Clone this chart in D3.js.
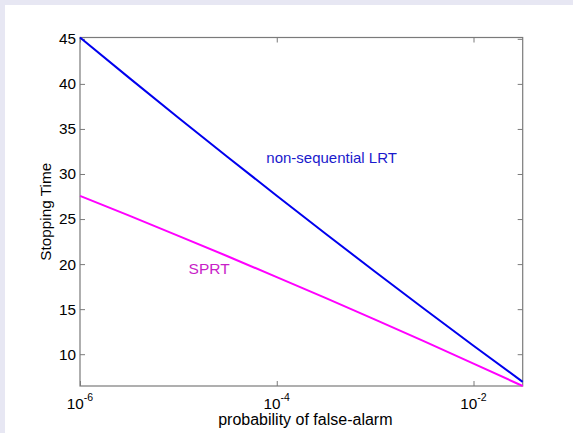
<!DOCTYPE html>
<html>
<head>
<meta charset="utf-8">
<script src="https://cdn.jsdelivr.net/npm/d3@7"></script>
<style>
  html, body { margin: 0; padding: 0; background: #ffffff; }
  svg { display: block; }
  text { font-family: "Liberation Sans", Arial, Helvetica, sans-serif; }
</style>
</head>
<body>
<svg id="chart" width="573" height="433"></svg>
<script>
// ---- data ----
const falseAlarm = [1e-6, 3.162e-6, 1e-5, 3.162e-5, 1e-4, 3.162e-4, 1e-3, 3.162e-3, 1e-2, 3.162e-2];
const lrtTime    = [45.15, 40.67, 36.25, 31.89, 27.59, 23.34, 19.15, 15.02, 10.94, 6.93];
const sprtTime   = [27.58, 25.38, 23.14, 20.87, 18.56, 16.22, 13.83, 11.42, 8.96, 6.47];
const xTickValues = [1e-6, 1e-4, 1e-2];
const xTickExponents = ["-6", "-4", "-2"];
const yTickValues = [10, 15, 20, 25, 30, 35, 40, 45];
const seriesNames = ["non-sequential LRT", "SPRT"];
const xLabel = "probability of false-alarm";
const yLabel = "Stopping Time";

// ---- layout ----
const W = 573, H = 433;
const plot = { left: 80, right: 522.7, top: 37.5, bottom: 386 };
const svg = d3.select("#chart");

// background frame
svg.append("rect").attr("x", 0).attr("y", 0).attr("width", W).attr("height", H).attr("fill", "#e7e7f3");
svg.append("rect").attr("x", 5).attr("y", 5).attr("width", W - 5).attr("height", H - 5).attr("fill", "#ffffff");

const allY = lrtTime.concat(sprtTime);
const x = d3.scaleLog().domain(d3.extent(falseAlarm)).range([plot.left, plot.right]);
const y = d3.scaleLinear().domain(d3.extent(allY)).range([plot.bottom, plot.top]);

const axisColor = "#7a7a7a";
const tickLen = 5;

// axes box
svg.append("rect")
  .attr("x", plot.left).attr("y", plot.top)
  .attr("width", plot.right - plot.left).attr("height", plot.bottom - plot.top)
  .attr("fill", "none").attr("stroke", axisColor).attr("stroke-width", 1.2);

// y axis left (ticks inward) and right
const yAxisL = d3.axisLeft(y).tickValues(yTickValues).tickSizeInner(-tickLen).tickSizeOuter(0).tickPadding(4);
const gyl = svg.append("g").attr("transform", `translate(${plot.left},0)`).call(yAxisL);
gyl.select(".domain").remove();
gyl.selectAll("line").attr("stroke", axisColor);
gyl.selectAll("text").attr("font-size", 15.3).attr("fill", "#000")
  .attr("font-family", '"Liberation Sans", Arial, sans-serif');

const yAxisR = d3.axisRight(y).tickValues(yTickValues).tickSizeInner(-tickLen).tickSizeOuter(0).tickFormat("");
const gyr = svg.append("g").attr("transform", `translate(${plot.right},0)`).call(yAxisR);
gyr.select(".domain").remove();
gyr.selectAll("line").attr("stroke", axisColor);

// x axis bottom and top
const xAxisB = d3.axisBottom(x).tickValues(xTickValues).tickSizeInner(-tickLen).tickSizeOuter(0).tickFormat("");
const gxb = svg.append("g").attr("transform", `translate(0,${plot.bottom})`).call(xAxisB);
gxb.select(".domain").remove();
gxb.selectAll("line").attr("stroke", axisColor);

const xAxisT = d3.axisTop(x).tickValues(xTickValues).tickSizeInner(-tickLen).tickSizeOuter(0).tickFormat("");
const gxt = svg.append("g").attr("transform", `translate(0,${plot.top})`).call(xAxisT);
gxt.select(".domain").remove();
gxt.selectAll("line").attr("stroke", axisColor);

// x tick labels with superscript exponents
xTickValues.forEach((v, i) => {
  const t = svg.append("text")
    .attr("x", x(v)).attr("y", plot.bottom + 23)
    .attr("text-anchor", "middle").attr("font-size", 15.3).attr("fill", "#000");
  t.append("tspan").text("10");
  t.append("tspan").attr("dy", -8).attr("font-size", 10.5).text(xTickExponents[i]);
});

// axis labels
svg.append("text")
  .attr("x", (plot.left + plot.right) / 2 + 4).attr("y", 425)
  .attr("text-anchor", "middle").attr("font-size", 16).attr("fill", "#000")
  .text(xLabel);
svg.append("text")
  .attr("transform", `translate(51,${(plot.top + plot.bottom) / 2}) rotate(-90)`)
  .attr("text-anchor", "middle").attr("font-size", 15.3).attr("fill", "#000")
  .text(yLabel);

// lines
const line = d3.line().x(d => x(d[0])).y(d => y(d[1]));
svg.append("path")
  .datum(falseAlarm.map((f, i) => [f, sprtTime[i]]))
  .attr("d", line).attr("fill", "none").attr("stroke", "#ff00ff").attr("stroke-width", 2);
svg.append("path")
  .datum(falseAlarm.map((f, i) => [f, lrtTime[i]]))
  .attr("d", line).attr("fill", "none").attr("stroke", "#0000ee").attr("stroke-width", 2);

// in-plot labels
svg.append("text")
  .attr("x", x(7.83e-5)).attr("y", y(31.24))
  .attr("font-size", 15).attr("fill", "#1a1acc").text(seriesNames[0]);
svg.append("text")
  .attr("x", x(1.27e-5)).attr("y", y(18.85))
  .attr("font-size", 15.5).attr("fill", "#c81ec8").text(seriesNames[1]);
</script>
</body>
</html>
